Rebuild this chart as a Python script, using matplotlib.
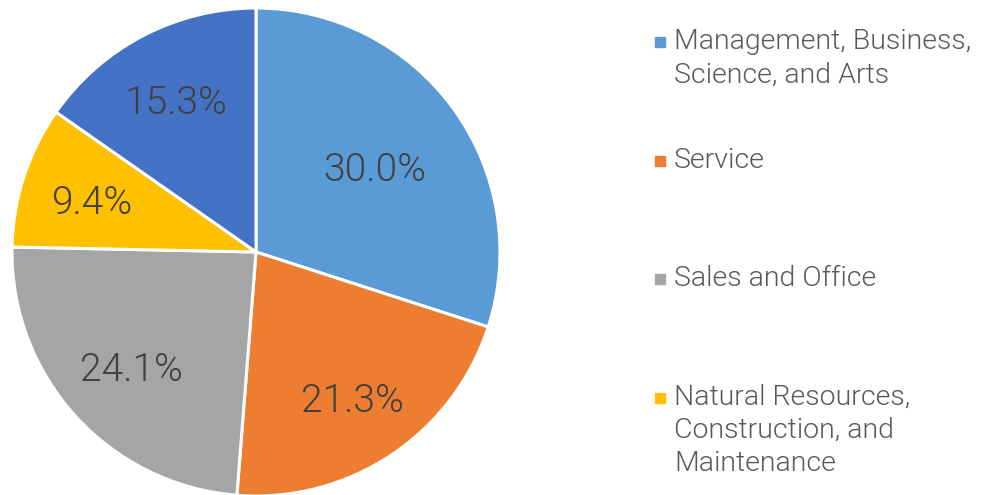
import matplotlib
matplotlib.use('Agg')
import matplotlib.pyplot as plt

categories = ['Management, Business,\nScience, and Arts', 'Service', 'Sales and Office',
              'Natural Resources,\nConstruction, and\nMaintenance',
              'Production, Transportation,\nand Material Moving']
values = [30.0, 21.3, 24.1, 9.4, 15.3]
colors = ['#5B9BD5', '#ED7D31', '#A5A5A5', '#FFC000', '#4472C4']

plt.rcParams['font.family'] = ['Roboto', 'DejaVu Sans']

fig = plt.figure(figsize=(9.82, 4.95), dpi=100)
ax = fig.add_axes([(256 - 244)/982, 1 - (252 + 244)/495, 488/982, 488/495])
wedges, texts, autotexts = ax.pie(values, colors=colors, startangle=90, counterclock=False,
                                  autopct='%.1f%%', pctdistance=0.6,
                                  wedgeprops=dict(edgecolor='white', linewidth=2.2),
                                  textprops=dict(fontsize=28, color='#404040', fontweight=300))
# excel "best fit" puts the labels a bit further out on the smaller slices
label_dist = [0.6, 0.71, 0.69, 0.71, 0.71]
for w, t, d in zip(wedges, autotexts, label_dist):
    x, y = t.get_position()
    r = (x**2 + y**2) ** 0.5
    t.set_position((x / r * d, y / r * d - 0.02))
ax.set_xlim(-1, 1)
ax.set_ylim(-1, 1)
ax.set_aspect('equal')

# legend by hand, Excel style spacing; only the first four fit on the canvas
y0 = 42
step = 118.5
for i, (lab, col) in enumerate(zip(categories[:4], colors[:4])):
    y = y0 + i * step
    fig.patches.append(plt.Rectangle((655/982, 1 - (y + 5)/495), 10/982, 10/495,
                                     transform=fig.transFigure, color=col))
    fig.text(674/982, 1 - (y - 14)/495, lab, fontsize=20.5, color='#595959',
             fontweight=300, va='top', ha='left', linespacing=1.3)

fig.savefig('out.png', dpi=100)
